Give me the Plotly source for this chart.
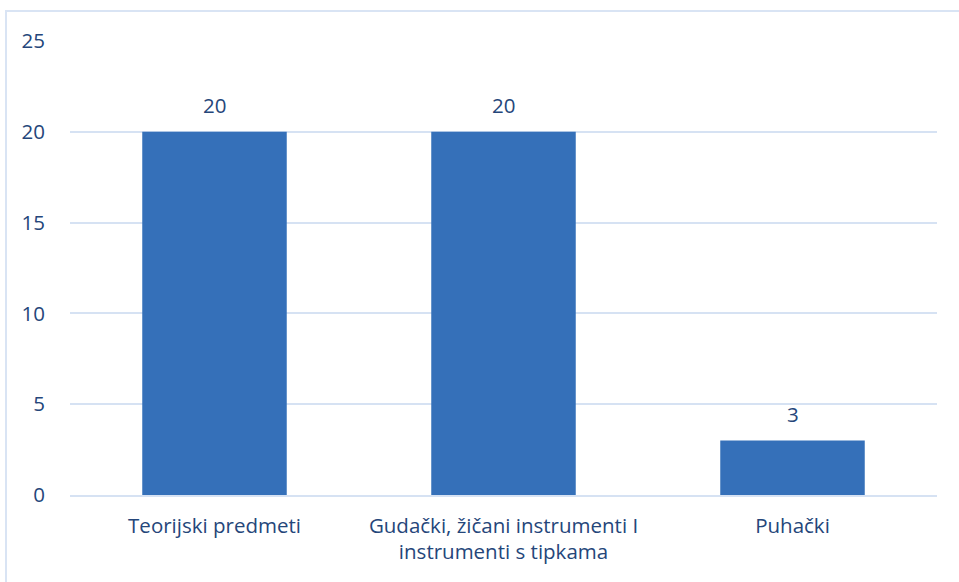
import plotly.graph_objects as go

categories = ["Teorijski predmeti", "Gudački, žičani instrumenti I<br>instrumenti s tipkama", "Puhački"]
values = [20, 20, 3]
y_ticks = [0, 5, 10, 15, 20, 25]

text_color = "#25467A"
grid_color = "#D6E2F3"
fs = 20.5

fig = go.Figure()
fig.add_trace(go.Bar(
    x=categories, y=values, width=0.5,
    marker=dict(color="#3570B9", line=dict(width=0)),
    hoverinfo="x+y",
))

for c, v in zip(categories, values):
    fig.add_annotation(x=c, y=v, text=str(v), showarrow=False,
                       yanchor="bottom", yshift=11,
                       font=dict(family="Open Sans", size=fs, color=text_color))

fig.update_layout(
    width=959, height=582,
    margin=dict(l=70, r=22, t=41, b=87),
    plot_bgcolor="white", paper_bgcolor="white",
    showlegend=False,
    font=dict(family="Open Sans", size=fs, color=text_color),
    xaxis=dict(showgrid=False, showline=True, linecolor=grid_color, linewidth=2,
               ticks="outside", ticklen=11, tickcolor="rgba(0,0,0,0)",
               tickfont=dict(size=fs, color=text_color)),
    yaxis=dict(range=[0, 25], tickvals=y_ticks, showgrid=True, gridcolor=grid_color,
               gridwidth=2, zeroline=False, showline=False,
               ticks="outside", ticklen=20, tickcolor="rgba(0,0,0,0)",
               tickfont=dict(size=fs, color=text_color)),
    shapes=[dict(type="rect", xref="paper", yref="paper",
                 x0=-0.0738, x1=1.04, y0=-0.22, y1=1.066,
                 line=dict(color="#D9E4F4", width=2), fillcolor="rgba(0,0,0,0)",
                 layer="below")],
)

fig.write_html("out.html", config={"displayModeBar": False},
               post_script="document.body.style.margin='0';")
